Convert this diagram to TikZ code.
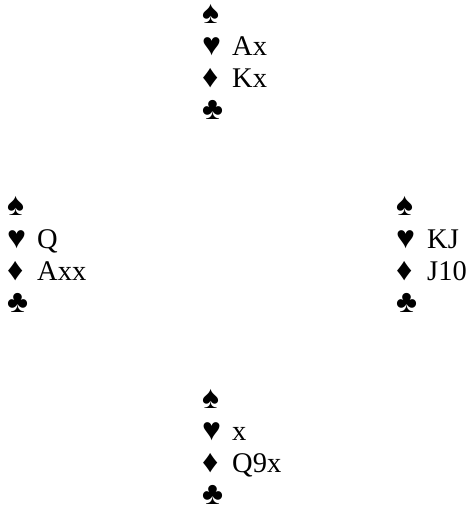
\documentclass[tikz,border=0pt]{standalone}
\usepackage{fontspec}
\setmainfont{Liberation Serif}
\begin{document}
\begin{tikzpicture}[x=1pt,y=-1pt,
  suit/.style={anchor=base west,inner sep=0pt,font=\fontsize{32}{32}\selectfont},
  cards/.style={anchor=base west,inner sep=0pt,font=\fontsize{28.5}{32}\selectfont}]
\useasboundingbox (0,0) rectangle (468,526);
% North
\node[suit] (ns) at (202,24) {♠};
\node[suit] (nh) at (202,56) {♥};
\node[cards] (nhc) at (232,56) {Ax};
\node[suit] (nd) at (202,88) {♦};
\node[cards] (ndc) at (232,88) {Kx};
\node[suit] (nc) at (202,120) {♣};
% West
\node[suit] (ws) at (7,216) {♠};
\node[suit] (wh) at (7,248) {♥};
\node[cards] (whc) at (37,248) {Q};
\node[suit] (wd) at (7,280) {♦};
\node[cards] (wdc) at (37,280) {Axx};
\node[suit] (wc) at (7,312) {♣};
% East
\node[suit] (es) at (396,216) {♠};
\node[suit] (eh) at (396,248) {♥};
\node[cards] (ehc) at (427,248) {KJ};
\node[suit] (ed) at (396,280) {♦};
\node[cards] (edc) at (427,280) {J10};
\node[suit] (ec) at (396,312) {♣};
% South
\node[suit] (ss) at (202,408) {♠};
\node[suit] (sh) at (202,440) {♥};
\node[cards] (shc) at (232,440) {x};
\node[suit] (sd) at (202,472) {♦};
\node[cards] (sdc) at (232,472) {Q9x};
\node[suit] (sc) at (202,504) {♣};
\end{tikzpicture}
\end{document}
